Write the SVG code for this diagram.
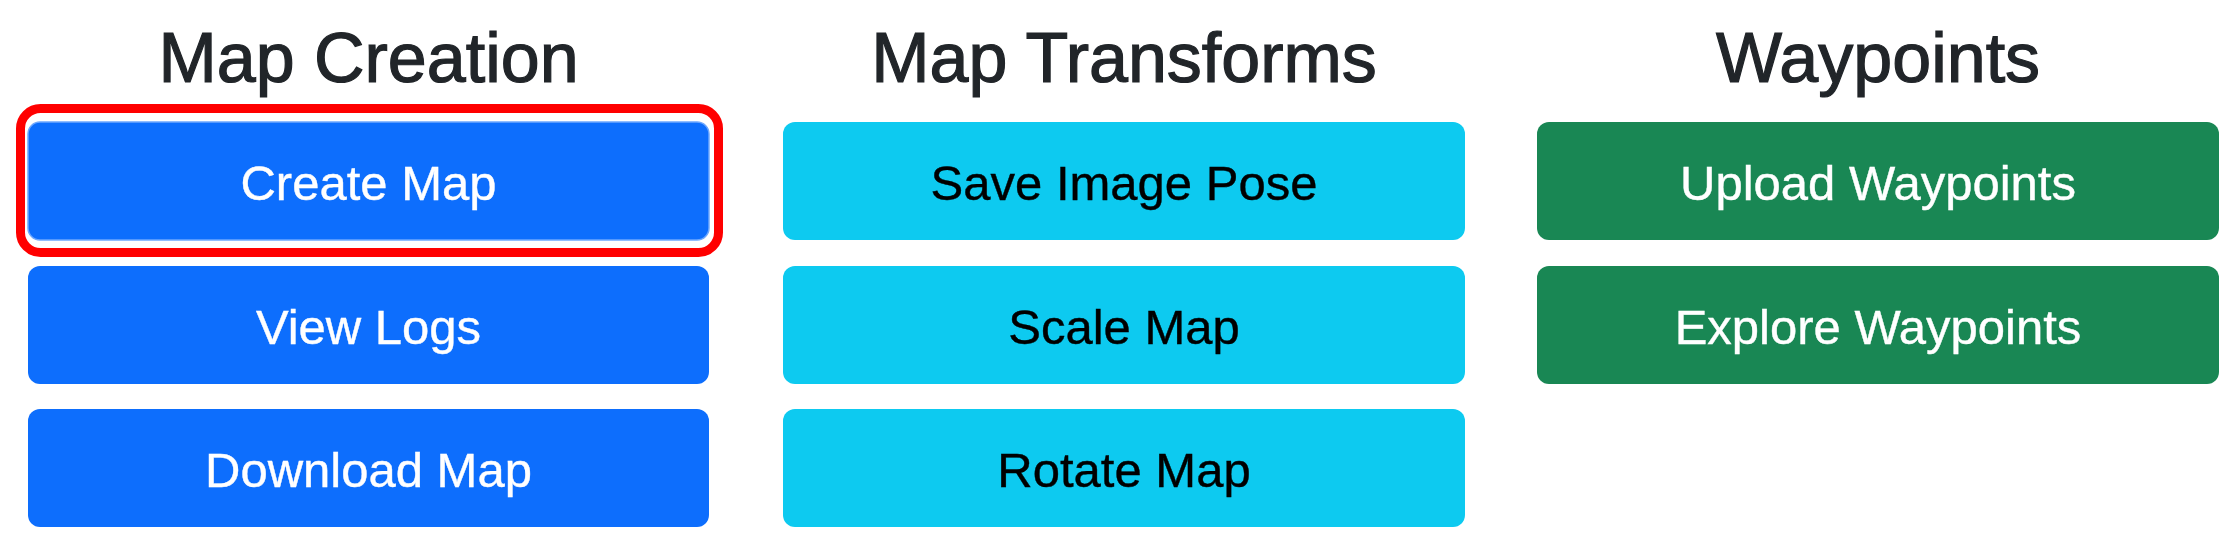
<svg xmlns="http://www.w3.org/2000/svg" width="2230" height="548" viewBox="0 0 2230 548">
<style>
.title{font-family:"Liberation Sans",Arial,sans-serif;font-size:70px;fill:#212529;stroke:#212529;stroke-width:1.2;text-anchor:middle;}
.lbl{font-family:"Liberation Sans",Arial,sans-serif;font-size:49px;text-anchor:middle;stroke-width:0.4;}
.primary rect{fill:#0d6efd;}
.primary text{fill:#ffffff;stroke:#ffffff;}
.info rect{fill:#0dcaf0;}
.info text{fill:#000000;stroke:#000000;}
.success rect{fill:#198754;}
.success text{fill:#ffffff;stroke:#ffffff;}
</style>
<rect width="2230" height="548" fill="#ffffff"/>
<g id="titles">
<text class="title" x="368.5" y="82">Map Creation</text>
<text class="title" x="1124" y="82">Map Transforms</text>
<text class="title" x="1878" y="82">Waypoints</text>
</g>
<g id="highlight">
<rect x="20.5" y="108.5" width="698" height="144" rx="20" fill="none" stroke="#ff0000" stroke-width="9"/>
</g>
<g id="create-map" class="primary">
<rect x="28" y="122" width="681" height="118" rx="12" stroke="#6ea8fe" stroke-width="1.5"/>
<text class="lbl" x="368.5" y="200">Create Map</text>
</g>
<g id="view-logs" class="primary">
<rect x="28" y="266" width="681" height="118" rx="12"/>
<text class="lbl" x="368.5" y="344">View Logs</text>
</g>
<g id="download-map" class="primary">
<rect x="28" y="409" width="681" height="118" rx="12"/>
<text class="lbl" x="368.5" y="487">Download Map</text>
</g>
<g id="save-image-pose" class="info">
<rect x="783" y="122" width="682" height="118" rx="12"/>
<text class="lbl" x="1124" y="200">Save Image Pose</text>
</g>
<g id="scale-map" class="info">
<rect x="783" y="266" width="682" height="118" rx="12"/>
<text class="lbl" x="1124" y="344">Scale Map</text>
</g>
<g id="rotate-map" class="info">
<rect x="783" y="409" width="682" height="118" rx="12"/>
<text class="lbl" x="1124" y="487">Rotate Map</text>
</g>
<g id="upload-waypoints" class="success">
<rect x="1537" y="122" width="682" height="118" rx="12"/>
<text class="lbl" x="1878" y="200">Upload Waypoints</text>
</g>
<g id="explore-waypoints" class="success">
<rect x="1537" y="266" width="682" height="118" rx="12"/>
<text class="lbl" x="1878" y="344">Explore Waypoints</text>
</g>
<g id="connectors"></g>
</svg>
